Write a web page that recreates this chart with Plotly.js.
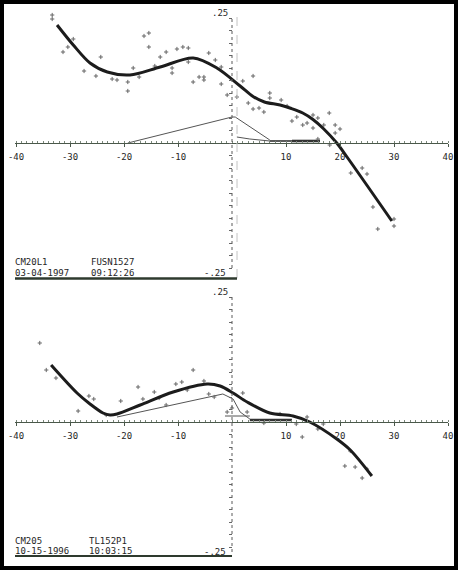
<!DOCTYPE html>
<html><head><meta charset="utf-8">
<script src="https://cdn.plot.ly/plotly-3.0.1.min.js"></script>
<style>html,body{margin:0;padding:0;background:#fff;}#chart{width:458px;height:570px;}</style>
</head><body><div id="chart"></div>
<script>
// ---------- data ----------
const xTickVals = [-40, -30, -20, -10, 10, 20, 30, 40];
const xTickText = ['-40', '-30', '-20', '-10', '10', '20', '30', '40'];
const yTickVals = [-0.25, -0.225, -0.2, -0.175, -0.15, -0.125, -0.1, -0.075, -0.05, -0.025, 0,
  0.025, 0.05, 0.075, 0.1, 0.125, 0.15, 0.175, 0.2, 0.225, 0.25];

// top panel: CM20L1 / FUSN1527
const topFitX = [-32.4, -29.4, -26.3, -23.1, -18.9, -13.3, -7.2, -2.8, 1.5, 3.9, 6.0, 8.9, 11.0, 13.1, 15.0, 17.0, 19.4, 21.3, 29.6];
const topFitY = [0.236, 0.196, 0.160, 0.142, 0.136, 0.152, 0.170, 0.150, 0.114, 0.093, 0.082, 0.076, 0.069, 0.060, 0.047, 0.028, 0.000, -0.028, -0.156];
const topPtsX = [-33.3, -33.3, -30.4, -29.4, -31.3, -27.4, -25.2, -24.3, -22.2, -21.3, -19.3, -19.3, -18.3, -17.2, -16.3,
  -15.4, -15.4, -14.3, -13.3, -12.2, -11.1, -11.1, -10.2, -9.1, -8.1, -8.1, -7.2, -6.1, -5.2, -5.2, -4.3, -3.1, -2.0, -2.0,
  -0.9, 0.9, 2.0, 3.9, 3.0, 3.9, 5.0, 5.9, 7.0, 7.0, 9.1, 10.2, 11.1, 12.0, 13.1, 13.9, 15.0, 15.9, 15.0, 17.0, 18.0, 19.1,
  19.1, 20.0, 18.1, 15.9, 22.0, 24.1, 25.0, 26.1, 27.0, 30.0, 30.0];
const topPtsY = [0.256, 0.248, 0.192, 0.208, 0.182, 0.144, 0.134, 0.172, 0.128, 0.126, 0.122, 0.104, 0.150, 0.132, 0.214,
  0.220, 0.192, 0.154, 0.172, 0.182, 0.150, 0.140, 0.188, 0.192, 0.190, 0.162, 0.122, 0.132, 0.132, 0.126, 0.180, 0.166, 0.152, 0.118,
  0.096, 0.092, 0.124, 0.134, 0.080, 0.068, 0.070, 0.062, 0.100, 0.090, 0.086, 0.074, 0.044, 0.052, 0.036, 0.040, 0.056, 0.050, 0.030, 0.036, 0.060, 0.036,
  0.020, 0.028, -0.004, 0.008, -0.060, -0.050, -0.062, -0.128, -0.172, -0.152, -0.166];
const topTriX = [-19.3, 0.0, 0.6, 7.0];
const topTriY = [0.000, 0.052, 0.052, 0.006];
const topLowX = [0.9, 3.3, 7.0];
const topLowY = [0.012, 0.008, 0.004];
const topBarAX = [7.0, 11.1];
const topBarAY = [0.004, 0.004];
const topBarBX = [11.1, 16.3];
const topBarBY = [0.004, 0.004];

// bottom panel: CM205 / TL152P1
const botFitX = [-33.5, -28.7, -26.3, -23.9, -22.6, -21.3, -17.0, -10.9, -4.6, -2.2, 0.2, 2.8, 7.0, 11.3, 14.4, 19.4, 21.9, 25.9];
const botFitY = [0.114, 0.058, 0.036, 0.018, 0.014, 0.016, 0.034, 0.060, 0.076, 0.072, 0.058, 0.040, 0.018, 0.012, 0.000, -0.034, -0.056, -0.108];
const botPtsX = [-35.6, -34.4, -32.6, -28.5, -26.5, -25.6, -23.3, -20.6, -17.4, -16.5, -14.4, -13.5, -12.2, -10.4, -9.3, -8.3,
  -7.2, -5.2, -4.3, -3.3, -0.9, 2.0, 0.0, 2.8, 5.9, 8.9, 11.9, 13.0, 13.9, 15.9, 16.9, 20.9, 22.8, 24.1, 25.0, 21.9];
const botPtsY = [0.158, 0.104, 0.088, 0.022, 0.052, 0.046, 0.014, 0.042, 0.070, 0.046, 0.060, 0.048, 0.034, 0.076, 0.080, 0.064,
  0.104, 0.082, 0.056, 0.050, 0.020, 0.058, 0.028, 0.020, -0.002, 0.016, -0.004, -0.030, 0.010, -0.014, -0.004, -0.088, -0.090, -0.112, -0.094, -0.058];
const botTriX = [-21.3, -1.7, 0.2, 1.5, 3.3];
const botTriY = [0.010, 0.056, 0.046, 0.020, 0.006];
const botLowX = [-1.3, 3.3];
const botLowY = [0.012, 0.012];
const botBarX = [3.3, 11.1];
const botBarY = [0.004, 0.004];

const topLabels = ['CM20L1', '03-04-1997', 'FUSN1527', '09:12:26'];
const botLabels = ['CM205', '10-15-1996', 'TL152P1', '10:03:15'];
const yEndLabels = ['.25', '-.25'];

// ---------- layout ----------
const FONT = 'DejaVu Sans Mono, Liberation Mono, monospace';
const INK = '#262626';
const AXC = '#4a584a';
const xDom = [15 / 458, 448 / 458];
const xRange = [-40.19, 40.0];
const yDomTop = [1 - 282 / 570, 1], yRangeTop = [-0.278, 0.286];
const yDomBot = [0, 1 - 282 / 570], yRangeBot = [-0.296, 0.28];
function frac(dom, rng, v) { return dom[0] + (v - rng[0]) / (rng[1] - rng[0]) * (dom[1] - dom[0]); }

function xAxis(pos) {
  return {
    domain: xDom, range: xRange, anchor: 'free', position: pos,
    showline: true, linecolor: AXC, linewidth: 1.3,
    ticks: 'outside', ticklen: 3, tickcolor: AXC, tickwidth: 1,
    tickvals: xTickVals, ticktext: xTickText, ticklabelstandoff: 2,
    tickfont: { family: FONT, size: 9, color: INK },
    minor: { dtick: 1, ticks: 'inside', ticklen: 2, tickcolor: '#7a867a', showgrid: false },
    showgrid: false, zeroline: false, fixedrange: true
  };
}
function yAxis(dom, rng) {
  return {
    domain: dom, range: rng, anchor: 'free', position: frac(xDom, xRange, 0),
    showline: false, ticks: 'outside', ticklen: 3, tickcolor: '#666', tickwidth: 1,
    tickvals: yTickVals, showticklabels: false, showgrid: false, zeroline: false, fixedrange: true
  };
}

function panelTraces(xa, ya, fx, fy, px, py, tri, low, bars) {
  const t = [];
  t.push({ x: tri[0], y: tri[1], xaxis: xa, yaxis: ya, mode: 'lines', line: { color: '#555', width: 1 }, hoverinfo: 'skip' });
  t.push({ x: low[0], y: low[1], xaxis: xa, yaxis: ya, mode: 'lines', line: { color: '#555', width: 1 }, hoverinfo: 'skip' });
  bars.forEach(b => t.push({ x: b[0], y: b[1], xaxis: xa, yaxis: ya, mode: 'lines', line: { color: '#333', width: b[2] }, hoverinfo: 'skip' }));
  t.push({ x: px, y: py, xaxis: xa, yaxis: ya, mode: 'markers',
    marker: { symbol: 'cross-thin', size: 3, color: '#666', line: { color: '#666', width: 1 } } });
  t.push({ x: fx, y: fy, xaxis: xa, yaxis: ya, mode: 'lines',
    line: { color: '#1c1c1c', width: 3, shape: 'spline', smoothing: 0.9 } });
  return t;
}

const traces = [].concat(
  panelTraces('x', 'y', topFitX, topFitY, topPtsX, topPtsY, [topTriX, topTriY], [topLowX, topLowY],
    [[topBarAX, topBarAY, 1.6], [topBarBX, topBarBY, 2.6]]),
  panelTraces('x2', 'y2', botFitX, botFitY, botPtsX, botPtsY, [botTriX, botTriY], [botLowX, botLowY],
    [[botBarX, botBarY, 2.4]])
);

function txt(xref, yref, x, y, s, anchor, xs) {
  return { xref: xref, yref: yref, x: x, y: y, text: s, showarrow: false, xanchor: anchor, yanchor: 'middle',
    xshift: xs || 0, borderpad: 0, borderwidth: 0, font: { family: FONT, size: 9, color: INK } };
}
function endLbl(xref, yref, y, s, ya, xs) {
  return { xref: xref, yref: yref, x: 0, y: y, text: s, showarrow: false, xanchor: 'right', yanchor: ya, xshift: xs,
    borderpad: 0, borderwidth: 0, font: { family: FONT, size: 9, color: INK } };
}

const annotations = [
  endLbl('x', 'y', 0.25, yEndLabels[0], 'bottom', -4),
  endLbl('x', 'y', -0.25, yEndLabels[1], 'top', -6),
  endLbl('x2', 'y2', 0.25, yEndLabels[0], 'bottom', -4),
  endLbl('x2', 'y2', -0.25, yEndLabels[1], 'top', -6),
  txt('x', 'y', -40.19, -0.237, topLabels[0], 'left'),
  txt('x', 'y', -40.19, -0.259, topLabels[1], 'left'),
  txt('x', 'y', -26.1, -0.237, topLabels[2], 'left'),
  txt('x', 'y', -26.1, -0.259, topLabels[3], 'left'),
  txt('x2', 'y2', -40.19, -0.238, botLabels[0], 'left'),
  txt('x2', 'y2', -40.19, -0.258, botLabels[1], 'left'),
  txt('x2', 'y2', -26.5, -0.238, botLabels[2], 'left'),
  txt('x2', 'y2', -26.5, -0.258, botLabels[3], 'left')
];

const shapes = [
  { type: 'line', xref: 'x', yref: 'y', x0: 0, x1: 0, y0: -0.25, y1: 0.25, line: { color: '#5a5a5a', width: 1, dash: 'dot' } },
  { type: 'line', xref: 'x', yref: 'y', x0: 0.93, x1: 0.93, y0: -0.27, y1: 0.262, line: { color: '#c4c4c4', width: 1, dash: 'dash' } },
  { type: 'line', xref: 'x2', yref: 'y2', x0: 0, x1: 0, y0: -0.26, y1: 0.25, line: { color: '#5a5a5a', width: 1, dash: 'dot' } },
  { type: 'line', xref: 'x', yref: 'y', x0: -40.19, x1: 0.93, y0: -0.271, y1: -0.271, line: { color: '#2e3a2e', width: 2.5 } },
  { type: 'line', xref: 'x2', yref: 'y2', x0: -40.19, x1: 0, y0: -0.268, y1: -0.268, line: { color: '#2e3a2e', width: 2 } },
  { type: 'rect', xref: 'paper', yref: 'paper', x0: 0, x1: 1, y0: 0, y1: 1, line: { color: '#000', width: 8 }, layer: 'above' }
];

const layout = {
  width: 458, height: 570, margin: { l: 0, r: 0, t: 0, b: 0, pad: 0 },
  paper_bgcolor: '#fff', plot_bgcolor: 'rgba(0,0,0,0)', showlegend: false,
  xaxis: xAxis(frac(yDomTop, yRangeTop, 0)),
  yaxis: yAxis(yDomTop, yRangeTop),
  xaxis2: xAxis(frac(yDomBot, yRangeBot, 0)),
  yaxis2: yAxis(yDomBot, yRangeBot),
  annotations: annotations, shapes: shapes
};

Plotly.newPlot('chart', traces, layout, { staticPlot: true, displayModeBar: false });
</script></body></html>
